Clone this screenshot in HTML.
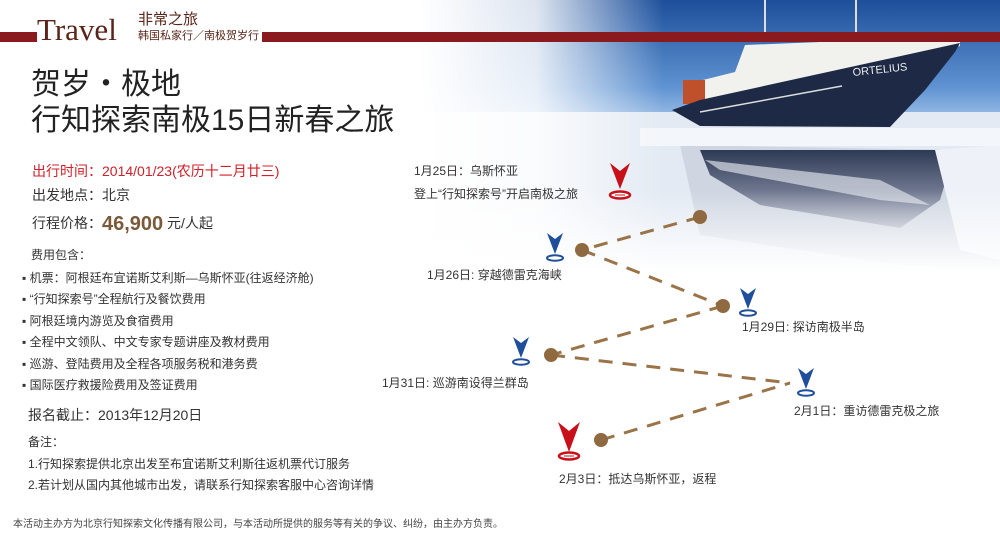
<!DOCTYPE html>
<html><head><meta charset="utf-8"><style>
body{margin:0;width:1000px;height:540px;overflow:hidden;background:#fff;position:relative;font-family:"Liberation Sans","Noto Sans CJK SC",sans-serif;color:#333}
.t{position:absolute;white-space:nowrap;line-height:1}
</style></head><body>
<svg width="1000" height="540" style="position:absolute;left:0;top:0">
<defs>
<linearGradient id="sky" x1="0" y1="0" x2="0" y2="1">
<stop offset="0" stop-color="#1d4f9a"/><stop offset="0.7" stop-color="#5f93d2"/><stop offset="1" stop-color="#a9c7ea"/></linearGradient>
<linearGradient id="fadeL" x1="0" y1="0" x2="1" y2="0">
<stop offset="0" stop-color="#fff" stop-opacity="1"/><stop offset="0.2" stop-color="#fff" stop-opacity="0.85"/><stop offset="0.42" stop-color="#fff" stop-opacity="0"/></linearGradient>
<linearGradient id="fadeB" x1="0" y1="0" x2="0" y2="1">
<stop offset="0.7" stop-color="#fff" stop-opacity="0"/><stop offset="1" stop-color="#fff" stop-opacity="1"/></linearGradient>
<linearGradient id="refl" x1="0" y1="0" x2="0" y2="1">
<stop offset="0" stop-color="#2e3a55"/><stop offset="1" stop-color="#a9afc2"/></linearGradient>
</defs>
<rect x="420" y="0" width="580" height="125" fill="url(#sky)"/>
<rect x="420" y="112" width="580" height="160" fill="#e3eaf3"/>
<polygon points="680,145 960,150 1000,160 1000,270 900,265 700,235" fill="#cfd6e1"/>
<polygon points="700,150 955,150 940,200 900,228 760,205 710,175" fill="url(#refl)"/>
<polygon points="705,160 880,180 930,205 880,200 720,170" fill="#d9dde5" opacity="0.7"/>
<polygon points="935,150 1000,145 1000,260 960,250" fill="#eef2f8"/>
<rect x="640" y="128" width="360" height="18" fill="#f3f6fa"/>
<polygon points="685,104 695,82 735,72 745,45 820,42 960,42 960,46 700,103" fill="#f1f1ee"/>
<rect x="683" y="80" width="22" height="24" fill="#c0502c"/>
<polygon points="672,110 700,100 960,43 955,52 925,90 890,127 700,126" fill="#1e2a45"/>
<line x1="700" y1="112" x2="842" y2="86" stroke="#ddd" stroke-width="1.5"/>
<text x="853" y="76" font-size="11" fill="#eee" font-family="Liberation Sans" transform="rotate(-6 853 76)">ORTELIUS</text>
<line x1="765" y1="0" x2="765" y2="32" stroke="#ddd" stroke-width="2"/>
<line x1="856" y1="0" x2="856" y2="32" stroke="#ddd" stroke-width="2"/>
<rect x="420" y="0" width="580" height="272" fill="url(#fadeL)"/>
<rect x="420" y="0" width="580" height="272" fill="url(#fadeB)"/>
<rect x="0" y="32" width="37" height="10" fill="#8b1a1e"/>
<rect x="262" y="32" width="738" height="10" fill="#8b1a1e"/>
<g stroke="#9a7448" stroke-width="3" stroke-dasharray="14,10" fill="none">
<line x1="700" y1="217" x2="582" y2="250"/>
<line x1="582" y1="250" x2="723" y2="306"/>
<line x1="723" y1="306" x2="551" y2="355"/>
<line x1="551" y1="355" x2="790" y2="383"/>
<line x1="601" y1="440" x2="790" y2="383"/>
</g>
<g fill="#8f6a40">
<circle cx="700" cy="217" r="7"/><circle cx="582" cy="250" r="7"/><circle cx="723" cy="306" r="7"/><circle cx="551" cy="355" r="7"/><circle cx="601" cy="440" r="7"/>
</g>
<g transform="translate(620,175)"><polygon points="-10,-12 0,-4 10,-12 0,14" fill="#c8101a"/><ellipse cx="0" cy="20" rx="10" ry="3.5" fill="#fff" stroke="#c8101a" stroke-width="2.5"/><line x1="-5" y1="20" x2="5" y2="20" stroke="#c8101a" stroke-width="1"/></g>
<g transform="translate(569,436)"><polygon points="-11,-14 0,-5 11,-14 0,16" fill="#c8101a"/><ellipse cx="0" cy="20" rx="10" ry="3.5" fill="#fff" stroke="#c8101a" stroke-width="2.5"/><line x1="-5" y1="20" x2="5" y2="20" stroke="#c8101a" stroke-width="1"/></g>
<g fill="#1f4f9a" stroke="#1f4f9a">
<g transform="translate(555,242)"><polygon points="-8,-9 0,-3 8,-9 0,12" stroke="none"/><ellipse cx="0" cy="16" rx="8" ry="2.8" fill="#fff" stroke-width="2"/></g>
<g transform="translate(748,297)"><polygon points="-8,-9 0,-3 8,-9 0,12" stroke="none"/><ellipse cx="0" cy="16" rx="8" ry="2.8" fill="#fff" stroke-width="2"/></g>
<g transform="translate(521,346)"><polygon points="-8,-9 0,-3 8,-9 0,12" stroke="none"/><ellipse cx="0" cy="16" rx="8" ry="2.8" fill="#fff" stroke-width="2"/></g>
<g transform="translate(806,377)"><polygon points="-8,-9 0,-3 8,-9 0,12" stroke="none"/><ellipse cx="0" cy="16" rx="8" ry="2.8" fill="#fff" stroke-width="2"/></g>
</g>
</svg>
<div class="t" style="left:37px;top:14px;font-family:'Liberation Serif',serif;font-size:31px;color:#5a2418">Travel</div>
<div class="t" style="left:138px;top:12px;font-size:15px;color:#5a2418">非常之旅</div>
<div class="t" style="left:138px;top:31px;font-size:11px;color:#5a2418">韩国私家行／南极贺岁行</div>
<div class="t" style="left:31px;top:70px;font-size:30px;color:#222">贺岁・极地</div>
<div class="t" style="left:31px;top:106px;font-size:30px;color:#222">行知探索南极15日新春之旅</div>
<div class="t" style="left:32px;top:164px;font-size:14px;color:#d0202a">出行时间：2014/01/23(农历十二月廿三)</div>
<div class="t" style="left:32px;top:188px;font-size:14px">出发地点：北京</div>
<div class="t" style="left:32px;top:212px;font-size:14px">行程价格：<b style="font-size:20px;color:#7a5a3a;position:relative;top:2px">46,900</b> 元/人起</div>
<div class="t" style="left:31px;top:249px;font-size:12px">费用包含：</div>
<div class="t" style="left:22px;top:268px;font-size:12px;line-height:21.4px">▪ 机票：阿根廷布宜诺斯艾利斯—乌斯怀亚(往返经济舱)<br>▪ “行知探索号”全程航行及餐饮费用<br>▪ 阿根廷境内游览及食宿费用<br>▪ 全程中文领队、中文专家专题讲座及教材费用<br>▪ 巡游、登陆费用及全程各项服务税和港务费<br>▪ 国际医疗救援险费用及签证费用</div>
<div class="t" style="left:28px;top:408px;font-size:14px">报名截止：2013年12月20日</div>
<div class="t" style="left:28px;top:432px;font-size:12px;line-height:21.5px">备注：<br>1.行知探索提供北京出发至布宜诺斯艾利斯往返机票代订服务<br>2.若计划从国内其他城市出发，请联系行知探索客服中心咨询详情</div>
<div class="t" style="left:13px;top:520px;font-size:10px;color:#444">本活动主办方为北京行知探索文化传播有限公司，与本活动所提供的服务等有关的争议、纠纷，由主办方负责。</div>
<div class="t" style="left:414px;top:165px;font-size:12px">1月25日：乌斯怀亚</div>
<div class="t" style="left:414px;top:188px;font-size:12px">登上“行知探索号”开启南极之旅</div>
<div class="t" style="left:427px;top:269px;font-size:12px">1月26日: 穿越德雷克海峡</div>
<div class="t" style="left:742px;top:321px;font-size:12px">1月29日: 探访南极半岛</div>
<div class="t" style="left:382px;top:377px;font-size:12px">1月31日: 巡游南设得兰群岛</div>
<div class="t" style="left:794px;top:405px;font-size:12px">2月1日：重访德雷克极之旅</div>
<div class="t" style="left:559px;top:473px;font-size:12px">2月3日：抵达乌斯怀亚，返程</div>
</body></html>
